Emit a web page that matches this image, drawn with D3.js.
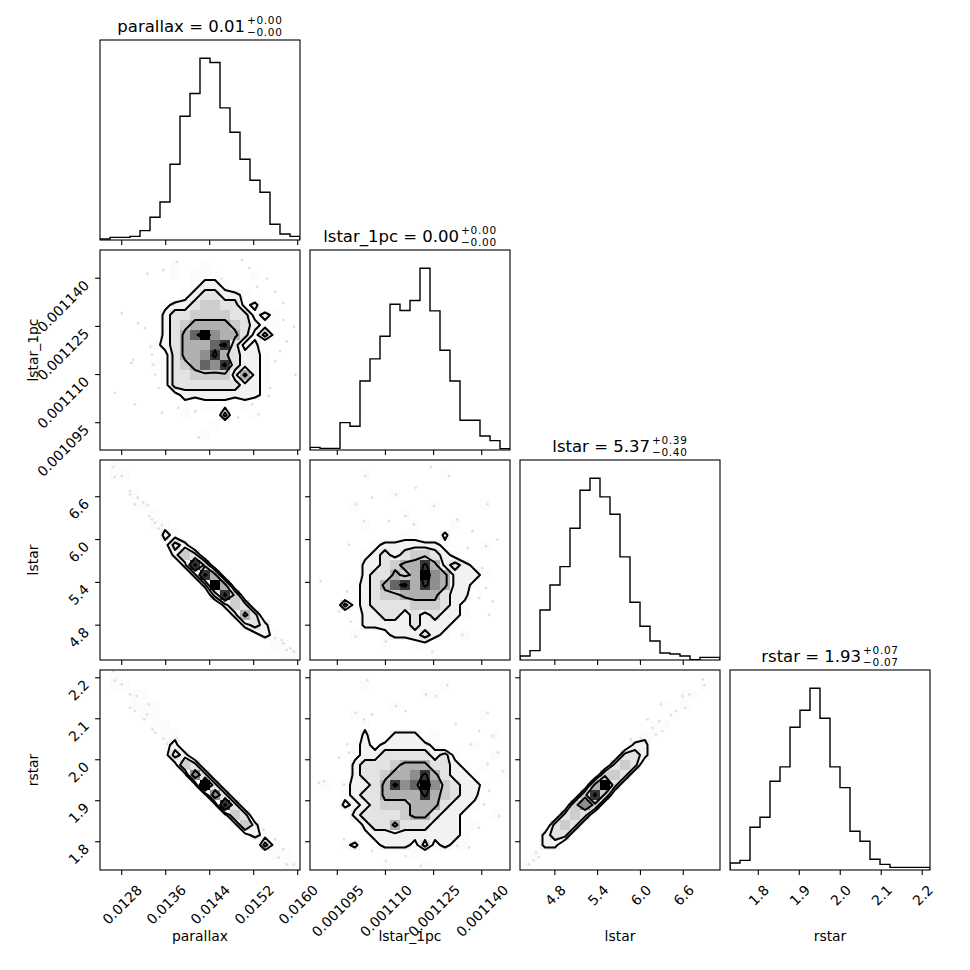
<!DOCTYPE html>
<html>
<head>
<meta charset="utf-8">
<title>corner plot</title>
<script src="https://cdn.jsdelivr.net/npm/d3@7"></script>
<style>
  body { margin: 0; background: #fff; }
  text { font-family: "DejaVu Sans", sans-serif; fill: #000; }
</style>
</head>
<body>
<svg id="chart" width="970" height="970"></svg>
<script>
// parameter names, axis ranges and ticks
var paramNames = ["parallax", "lstar_1pc", "lstar", "rstar"];
var paramRanges = [[0.012405, 0.016042], [0.0010865, 0.0011488], [4.312, 7.115], [1.731, 2.219]];
var parallaxTicks = [0.0128, 0.0136, 0.0144, 0.0152, 0.0160];
var lstar1pcTicks = [0.001095, 0.001110, 0.001125, 0.001140];
var lstarTicks = [4.8, 5.4, 6.0, 6.6];
var rstarTicks = [1.8, 1.9, 2.0, 2.1, 2.2];
var titleValues = ["0.01", "0.00", "5.37", "1.93"];
var titlePlus = ["0.00", "0.00", "0.39", "0.07"];
var titleMinus = ["0.00", "0.00", "0.40", "0.07"];

// 1d histograms, 20 bins each
var histParallax = [3, 8, 8, 11, 28, 68, 114, 227, 371, 439, 545, 532, 396, 323, 242, 179, 143, 47, 18, 11];
var histLstar1pc = [8, 5, 5, 82, 71, 207, 273, 341, 437, 418, 448, 545, 417, 299, 207, 89, 89, 42, 28, 4];
var histLstar = [12, 28, 150, 225, 280, 395, 509, 545, 489, 437, 309, 173, 101, 57, 21, 18, 12, 1, 8, 8];
var histRstar = [21, 29, 128, 158, 266, 309, 428, 479, 545, 455, 309, 247, 116, 86, 32, 17, 8, 8, 8, 8];

// 2d histograms (20x20, top row first, relative counts 0-9)
var gridParallaxLstar1pc = [
  "00000000000000000000", "00000001001000000000", "00000001011100010000", "00000000012210000000",
  "00000000123322100000", "00000012234433120000", "00000023344443312100", "00000023455554321100",
  "00000023579655313100", "00000123555783120000", "00000013556853221000", "00000113457683221000",
  "00000013344442521000", "00000013333333221000", "00000001222222221000", "00000000101110100000",
  "00000000100030010000", "00000000000100000000", "00000000001000000000", "00000000000000000000"];
var gridParallaxLstar = [
  "01000000000000000000", "01100000000000000000", "00000000000000000000", "00010000000000000000",
  "00011000000000000000", "00000100000000000000", "00000110000000000000", "00000021000000000000",
  "00000013200000000000", "00000002430000000000", "00000000284000000000", "00000000028500000000",
  "00000000002950000000", "00000000000384000000", "00000000000024300000", "00000000000002530000",
  "00000000000000232000", "00000000000000012100", "00000000000000000110", "00000000000000000011"];
var gridLstar1pcLstar = [
  "00000000000000000000", "00000100000001000000", "00000000000000000000", "00000000100000000000",
  "00001000000010000100", "00000000010000000000", "00000100001000100000", "00000000011002000000",
  "00000012222221000100", "00000123234432100000", "00000223455852321000", "00000233545965222100",
  "00001235785865221000", "00001234455553220000", "00031233334443210000", "00000223323232210000",
  "00000222223222100000", "00001001222321010000", "00000001001100000000", "00000000000010000000"];
var gridParallaxRstar = [
  "01000000000000000000", "01100000000000000000", "00011000000000000000", "00011100000000000000",
  "00001100000000000000", "00000110000000000000", "00000011000000000000", "00000012000000000000",
  "00000013200000000000", "00000001430000000000", "00000000163000000000", "00000000019300000000",
  "00000000001630000000", "00000000000183000000", "00000000000014300000", "00000000000001420000",
  "00000000000000121000", "00000000000000003100", "00000000000000000110", "00000000000000000011"];
var gridLstar1pcRstar = [
  "00000000000000000000", "00000100000001000000", "00000000000110000000", "00000000100000000000",
  "00001000000000000100", "00000100000000000000", "00000200222010000010", "00001212222210001000",
  "00001223333323100010", "00002333455533210100", "00002334556853221001", "01012235867964322100",
  "00012335555854322000", "00021234445553221000", "00002333345532210010", "00000233533322211000",
  "00000122222222210000", "00012012221312110000", "00000000001000000000", "00000001000100000000"];
var gridLstarRstar = [
  "00000000000000000000", "00000000000000000010", "00000000000000001100", "00000000000000101000",
  "00000000000000010000", "00000000000001100000", "00000000000011000000", "00000000000220000000",
  "00000000003320000000", "00000000034300000000", "00000000443000000000", "00000005930000000000",
  "00000048400000000000", "00000464000000000000", "00003430000000000000", "00034300000000000000",
  "00233000000000000000", "00220000000000000000", "01000000000000000000", "10000000000000000000"];
var contourLevels = [1.5, 2.5, 4.5, 7.5];

// loose samples outside the contours
var ptsParallaxLstar1pc = [[0.01380,0.0011451],[0.01356,0.0011425],[0.01327,0.0011414],[0.01499,0.0011456],[0.01512,0.0011432],
  [0.01462,0.0011399],[0.01544,0.0011399],[0.01526,0.0011373],[0.01559,0.0011358],[0.01574,0.0011322],[0.01593,0.0011249],
  [0.01580,0.0011203],[0.01559,0.0011141],[0.01550,0.0011058],[0.01529,0.0010976],[0.01492,0.0010966],[0.01414,0.0010986],
  [0.01347,0.0011058],[0.01304,0.0011007],[0.01267,0.0011043],[0.01298,0.0011136],[0.01280,0.0011291],[0.01310,0.0011260],
  [0.01335,0.0011162],[0.01420,0.0010904],[0.01353,0.0010981],[0.01596,0.0011100],[0.01301,0.0011146],[0.01332,0.0011187],
  [0.01338,0.0011131],[0.01341,0.0011100],[0.01322,0.0011244],[0.01574,0.0011270],[0.01568,0.0011172],[0.01547,0.0011033],
  [0.01517,0.0011007],[0.01383,0.0010996]];
var ptsParallaxLstar = [[0.01265,7.017],[0.01267,6.877],[0.01280,6.891],[0.01295,6.680],[0.01295,6.633],[0.01309,6.586],
  [0.01304,6.492],[0.01319,6.516],[0.01327,6.483],[0.01330,6.328],[0.01335,6.281],[0.01341,6.234],[0.01353,6.201],
  [0.01347,6.154],[0.01559,4.616],[0.01571,4.593],[0.01574,4.546],[0.01580,4.452],[0.01593,4.429],[0.01587,4.475]];
var ptsLstar1pcLstar = [[0.0011038,6.891],[0.0011241,7.017],[0.0011132,6.633],[0.0011007,6.492],[0.0011298,6.891],
  [0.0011252,6.469],[0.0011418,6.492],[0.0011163,6.328],[0.0011033,6.258],[0.0011189,6.211],[0.0011324,6.281],
  [0.0011413,5.906],[0.0011449,6.000],[0.0011402,5.601],[0.0011434,5.132],[0.0011423,4.944],[0.0010898,5.413],
  [0.0010981,5.273],[0.0011007,4.640],[0.0011101,4.570],[0.0011246,4.429],[0.0011340,4.663],[0.0010986,5.929],[0.0011371,6.117],
  [0.0011356,5.882],[0.0011413,5.320],[0.0011392,5.179],[0.0011059,6.586],[0.0011194,6.727],[0.0011111,6.258],
  [0.0010955,4.991],[0.0010992,4.851]];
var ptsParallaxRstar = [[0.01265,2.2163],[0.01268,2.1935],[0.01280,2.1837],[0.01295,2.1594],[0.01307,2.1553],[0.01295,2.1268],
  [0.01329,2.1350],[0.01304,2.1187],[0.01326,2.1106],[0.01321,2.0984],[0.01336,2.0740],[0.01341,2.0659],[0.01356,2.0520],
  [0.01380,2.0520],[0.01362,2.0390],[0.01538,1.8301],[0.01559,1.8057],[0.01547,1.7813],[0.01574,1.7813],[0.01565,1.7610],
  [0.01580,1.7447],[0.01593,1.7447]];
var ptsLstar1pcRstar = [[0.0011044,2.1935],[0.0011132,2.1309],[0.0011293,2.1821],[0.0011226,2.1594],[0.0011257,2.1553],
  [0.0011418,2.1146],[0.0011007,2.1146],[0.0011033,2.0984],[0.0010981,2.0374],[0.0010986,2.0171],[0.0010893,1.9439],
  [0.0010908,1.9480],[0.0010971,1.9398],[0.0011366,2.0374],[0.0011434,2.0577],[0.0011450,2.0171],[0.0011418,1.9886],
  [0.0011465,1.9724],[0.0011454,1.8626],[0.0011392,1.8342],[0.0011361,1.7854],[0.0011101,1.7529],[0.0011210,1.7407],
  [0.0011324,1.7895],[0.0010971,1.8057],[0.0010955,2.0049],[0.0011059,2.1106],[0.0011163,2.1187],[0.0011319,2.0862],
  [0.0011392,2.0699],[0.0011423,1.9236],[0.0011408,1.8911],[0.0011059,1.7772],[0.0011163,1.7650]];
var ptsLstarRstar = [[6.873,2.1959],[6.896,2.1821],[6.592,2.1553],[6.685,2.1594],[6.287,2.1350],[6.629,2.1268],[6.498,2.1187],
  [6.427,2.1089],[6.099,2.0984],[6.263,2.0943],[6.169,2.0780],[6.310,2.0699],[6.216,2.0618],[5.865,2.0496],[6.005,2.0520],
  [4.434,1.7447],[4.505,1.7545],[4.575,1.7626],[4.537,1.7732]];

var histograms = [histParallax, histLstar1pc, histLstar, histRstar];
var tickValues = [parallaxTicks, lstar1pcTicks, lstarTicks, rstarTicks];
var tickFormats = [d3.format(".4f"), d3.format(".6f"), d3.format(".1f"), d3.format(".1f")];
var pairGrids = {"0-1": gridParallaxLstar1pc, "0-2": gridParallaxLstar, "1-2": gridLstar1pcLstar,
                 "0-3": gridParallaxRstar, "1-3": gridLstar1pcRstar, "2-3": gridLstarRstar};
var pairPoints = {"0-1": ptsParallaxLstar1pc, "0-2": ptsParallaxLstar, "1-2": ptsLstar1pcLstar,
                  "0-3": ptsParallaxRstar, "1-3": ptsLstar1pcRstar, "2-3": ptsLstarRstar};

var W = 200, GAP = 10, LEFT = 100, TOP = 40, TICK = 4.9, NB = 20;
var svg = d3.select("#chart");
var defs = svg.append("defs");

function colX(k) { return LEFT + k * (W + GAP); }
function rowY(k) { return TOP + k * (W + GAP); }
function xScale(k) { return d3.scaleLinear().domain(paramRanges[k]).range([colX(k), colX(k) + W]); }
function yScale(k) { return d3.scaleLinear().domain(paramRanges[k]).range([rowY(k) + W, rowY(k)]); }

function drawHist(g, i) {
  var counts = histograms[i];
  var x = xScale(i);
  var y = d3.scaleLinear().domain([0, 1.1 * d3.max(counts)]).range([rowY(i) + W, rowY(i)]);
  var lo = paramRanges[i][0], bw = (paramRanges[i][1] - lo) / counts.length;
  var pts = [[lo, 0]];
  counts.forEach(function(c, b) { pts.push([lo + b * bw, c]); });
  pts.push([lo + counts.length * bw, counts[counts.length - 1]]);
  pts.push([lo + counts.length * bw, 0]);
  var line = d3.line().x(function(d) { return x(d[0]); }).y(function(d) { return y(d[1]); }).curve(d3.curveStepAfter);
  g.append("path").attr("d", line(pts)).attr("fill", "none").attr("stroke", "#000").attr("stroke-width", 1.4);
}

function draw2d(g, i, j) {
  var key = j + "-" + i;
  var grid = pairGrids[key].map(function(row) { return row.split("").map(Number); });
  var x = xScale(j), y = yScale(i);
  var xlo = paramRanges[j][0], bwx = (paramRanges[j][1] - xlo) / NB;
  var yhi = paramRanges[i][1], bhy = (yhi - paramRanges[i][0]) / NB;

  g.selectAll("circle.pt").data(pairPoints[key]).join("circle").attr("class", "pt")
    .attr("cx", function(d) { return x(d[0]); }).attr("cy", function(d) { return y(d[1]); })
    .attr("r", 1.4).attr("fill", "#000").attr("fill-opacity", 0.12);

  // padded grid like corner does, edges repeated once
  var n = NB + 4, vals = new Array(n * n).fill(0);
  for (var r = 1; r < n - 1; r++) {
    for (var c = 1; c < n - 1; c++) {
      var rr = Math.min(Math.max(r - 2, 0), NB - 1), cc = Math.min(Math.max(c - 2, 0), NB - 1);
      vals[r * n + c] = grid[rr][cc];
    }
  }
  var contours = d3.contours().size([n, n]).thresholds(contourLevels)(vals);
  var proj = d3.geoTransform({ point: function(px, py) {
    this.stream.point(x(xlo + (px - 2) * bwx), y(yhi - (py - 2) * bhy));
  }});
  var path = d3.geoPath(proj);

  g.append("path").attr("d", path(contours[0])).attr("fill", "#fff");

  var vmax = d3.max(grid, function(row) { return d3.max(row); });
  var cells = [];
  grid.forEach(function(row, r) { row.forEach(function(v, c) { if (v > 0) cells.push({r: r, c: c, v: v}); }); });
  g.selectAll("rect.cell").data(cells).join("rect").attr("class", "cell")
    .attr("x", function(d) { return x(xlo + d.c * bwx); })
    .attr("y", function(d) { return y(yhi - d.r * bhy); })
    .attr("width", function(d) { return x(xlo + (d.c + 1) * bwx) - x(xlo + d.c * bwx); })
    .attr("height", function(d) { return y(yhi - (d.r + 1) * bhy) - y(yhi - d.r * bhy); })
    .attr("fill", function(d) { var t = 255 * (1 - d.v / vmax); return d3.rgb(t, t, t); })
    .attr("fill-opacity", function(d) { return d.v / vmax; })
    .attr("shape-rendering", "crispEdges");

  contours.forEach(function(cn) {
    g.append("path").attr("d", path(cn)).attr("fill", "none").attr("stroke", "#000")
      .attr("stroke-width", 2).attr("stroke-linejoin", "round");
  });
}

for (var i = 0; i < 4; i++) {
  for (var j = 0; j <= i; j++) {
    var px = colX(j), py = rowY(i);
    var cid = "clip-" + i + "-" + j;
    defs.append("clipPath").attr("id", cid).append("rect").attr("x", px).attr("y", py).attr("width", W).attr("height", W);
    var g = svg.append("g").attr("clip-path", "url(#" + cid + ")");
    if (i == j) drawHist(g, i); else draw2d(g, i, j);

    svg.append("rect").attr("x", px).attr("y", py).attr("width", W).attr("height", W)
      .attr("fill", "none").attr("stroke", "#000").attr("stroke-width", 1.1);

    // x ticks
    var xs = xScale(j);
    tickValues[j].forEach(function(t) {
      svg.append("line").attr("x1", xs(t)).attr("x2", xs(t)).attr("y1", py + W).attr("y2", py + W + TICK)
        .attr("stroke", "#000").attr("stroke-width", 1.1);
      if (i == 3) {
        var lab = svg.append("text").attr("font-size", 13.9).attr("text-anchor", "end").text(tickFormats[j](t));
        var L = lab.node().getComputedTextLength();
        lab.attr("transform", "translate(" + (xs(t) + L * 0.3536 + 4) + "," + (py + W + 21) + ") rotate(-45)");
      }
    });
    // y ticks
    if (j < i) {
      var ys = yScale(i);
      tickValues[i].forEach(function(t) {
        svg.append("line").attr("x1", px - TICK).attr("x2", px).attr("y1", ys(t)).attr("y2", ys(t))
          .attr("stroke", "#000").attr("stroke-width", 1.1);
        if (j == 0) {
          svg.append("text").attr("font-size", 13.9).attr("text-anchor", "end")
            .attr("transform", "translate(" + (px - 10) + "," + (ys(t) + 8) + ") rotate(-45)")
            .text(tickFormats[i](t));
        }
      });
    }
  }
}

// axis labels
paramNames.forEach(function(name, k) {
  svg.append("text").attr("font-size", 13.9).attr("text-anchor", "middle")
    .attr("x", colX(k) + W / 2).attr("y", 941).text(name);
  if (k > 0) {
    svg.append("text").attr("font-size", 13.9).attr("text-anchor", "middle")
      .attr("transform", "translate(38," + (rowY(k) + W / 2) + ") rotate(-90)").text(name);
  }
});

// titles with +/- errors
paramNames.forEach(function(name, k) {
  var tg = svg.append("g");
  var main = tg.append("text").attr("font-size", 16.5).text(name + " = " + titleValues[k]);
  var sup = tg.append("text").attr("font-size", 10.5).attr("letter-spacing", 0.7).text("+" + titlePlus[k]);
  var sub = tg.append("text").attr("font-size", 10.5).attr("letter-spacing", 0.7).text("\u2212" + titleMinus[k]);
  var wm = main.node().getComputedTextLength();
  var ws = Math.max(sup.node().getComputedTextLength(), sub.node().getComputedTextLength());
  var x0 = colX(k) + W / 2 - (wm + ws + 2) / 2;
  var base = rowY(k) - 8;
  main.attr("x", x0).attr("y", base);
  sup.attr("x", x0 + wm + 2).attr("y", base - 8.5);
  sub.attr("x", x0 + wm + 2).attr("y", base + 3.8);
});
</script>
</body>
</html>
